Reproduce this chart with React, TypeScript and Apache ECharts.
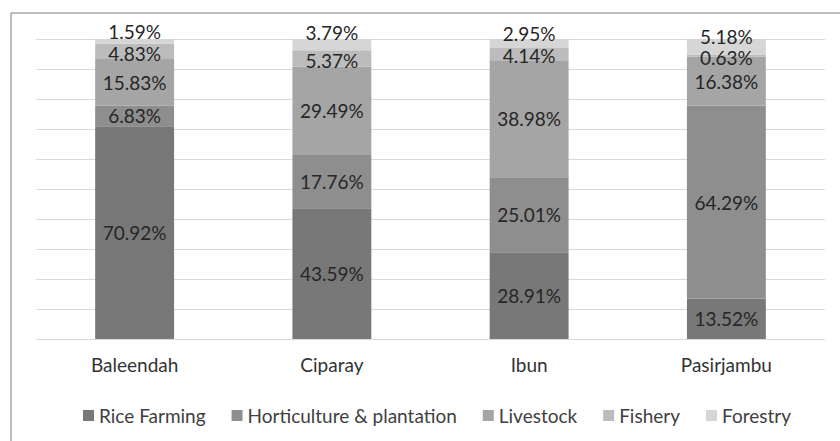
import React, { useEffect, useRef } from "react";
import * as echarts from "echarts";

const categories = ["Baleendah", "Ciparay", "Ibun", "Pasirjambu"];
const seriesNames = ["Rice Farming", "Horticulture & plantation", "Livestock", "Fishery", "Forestry"];
const riceFarming = [70.92, 43.59, 28.91, 13.52];
const horticulture = [6.83, 17.76, 25.01, 64.29];
const livestock = [15.83, 29.49, 38.98, 16.38];
const fishery = [4.83, 5.37, 4.14, 0.63];
const forestry = [1.59, 3.79, 2.95, 5.18];
const colors = ["#787878", "#8e8e8e", "#a5a5a5", "#bcbcbc", "#d6d6d6"];
// label nudges (px) for the crowded top segments, as in the reference
const fisheryLabelShift = [2, 2, 1, 2];
const forestryLabelShift = [-10, -12, -10, -10];

export default function App() {
  const ref = useRef<HTMLDivElement>(null);
  useEffect(() => {
    const chart = echarts.init(ref.current!, null, { renderer: "svg" });
    const values = [riceFarming, horticulture, livestock, fishery, forestry];
    const shifts: (number[] | null)[] = [null, null, null, fisheryLabelShift, forestryLabelShift];
    const font = "Lato, 'Open Sans', sans-serif";
    chart.setOption({
      animation: false,
      grid: { left: 36, right: 15, top: 39, bottom: 102 },
      graphic: [
        {
          type: "rect",
          shape: { x: 11, y: 13, width: 840, height: 440 },
          style: { fill: "none", stroke: "#7a7a7a", lineWidth: 1 },
          silent: true,
        },
      ],
      legend: {
        top: 401,
        left: 78,
        itemWidth: 11,
        itemHeight: 11,
        itemGap: 26,
        icon: "rect",
        textStyle: { fontFamily: font, fontSize: 19, color: "#404040" },
        data: seriesNames,
      },
      xAxis: {
        type: "category",
        data: categories,
        axisLine: { lineStyle: { color: "#d9d9d9", width: 1 } },
        axisTick: { show: false },
        axisLabel: { fontFamily: font, fontSize: 19, color: "#333333", margin: 16 },
      },
      yAxis: {
        type: "value",
        min: 0,
        max: 100,
        interval: 10,
        axisLabel: { show: false },
        axisLine: { show: false },
        axisTick: { show: false },
        splitLine: { lineStyle: { color: "#d9d9d9", width: 1 } },
      },
      series: seriesNames.map((name, i) => ({
        name,
        type: "bar",
        stack: "total",
        barWidth: "40%",
        data: values[i].map((v, j) => {
          const s = shifts[i];
          return s ? { value: v, label: { offset: [0, s[j]] } } : v;
        }),
        itemStyle: { color: colors[i] },
        label: {
          show: true,
          position: "inside",
          formatter: (p: any) => p.value.toFixed(2) + "%",
          fontFamily: font,
          fontSize: 19,
          lineHeight: 17,
          color: "#262626",
        },
      })),
    });
    return () => chart.dispose();
  }, []);
  return <div ref={ref} style={{ position: "absolute", left: 0, top: 0, width: 840, height: 441 }} />;
}
